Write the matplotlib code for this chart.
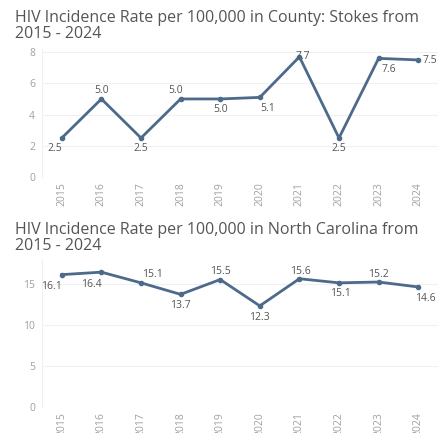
import matplotlib.pyplot as plt

years = ['2015', '2016', '2017', '2018', '2019', '2020', '2021', '2022', '2023', '2024']
stokes = [2.5, 5.0, 2.5, 5.0, 5.0, 5.1, 7.7, 2.5, 7.6, 7.5]
nc = [16.1, 16.4, 15.1, 13.7, 15.5, 12.3, 15.6, 15.1, 15.2, 14.6]

# label offsets in pixels (dx, dy)
stokes_off = [(-7, -11), (0, 8), (0, -11), (-5, 8), (0, -11), (8, -11), (3, 0), (0, -11), (10, -11), (12, -1)]
nc_off = [(-10, -12), (-10, -12), (11, 8), (0, -11), (0, 8), (0, -12), (1, 7), (1, -11), (0, 8), (7, -12)]

plt.rcParams['font.family'] = ['Open Sans', 'DejaVu Sans']

W, H = 440, 433
fig = plt.figure(figsize=(W / 100, H / 100), dpi=100)

line_color = '#4d6a8b'
tick_color = '#a0a0a0'
title_color = '#555555'


def panel(rect, values, offsets, ylim, yticks, title, title_y):
    l, t, r, b = rect
    ax = fig.add_axes([l / W, (H - b) / H, (r - l) / W, (b - t) / H])
    x = range(len(years))
    ax.plot(x, values, color=line_color, lw=2, marker='o', ms=3)
    for i, v in enumerate(values):
        ax.annotate(f'{v:.1f}', (i, v), xytext=offsets[i], textcoords='offset pixels',
                    ha='center', va='center', fontsize=7.5, color='#555555')
    ax.set_xlim(-0.5, len(years) - 0.5)
    ax.set_ylim(*ylim)
    ax.set_yticks(yticks)
    ax.set_xticks(list(x))
    ax.set_xticklabels(years, rotation=90, fontsize=7.5, color=tick_color)
    ax.tick_params(axis='y', labelsize=7.5, labelcolor=tick_color, length=0, pad=5)
    ax.tick_params(axis='x', length=0, pad=4)
    for s in ax.spines.values():
        s.set_visible(False)
    ax.spines['left'].set_visible(True)
    ax.spines['left'].set_color('#f0f0f0')
    ax.grid(axis='y', color='#f0f0f0', lw=0.8)
    ax.set_axisbelow(True)
    fig.text(15 / W, 1 - title_y / H, title, fontsize=11.5, color=title_color,
             ha='left', va='top', linespacing=1.0)
    return ax


panel((42, 49, 438, 177), stokes, stokes_off, (0, 8.2), [0, 2, 4, 6, 8],
      'HIV Incidence Rate per 100,000 in County: Stokes from\n2015 - 2024', 10)
panel((42, 259, 438, 407), nc, nc_off, (0, 18), [0, 5, 10, 15],
      'HIV Incidence Rate per 100,000 in North Carolina from\n2015 - 2024', 222)

fig.savefig('out.png', dpi=100)
